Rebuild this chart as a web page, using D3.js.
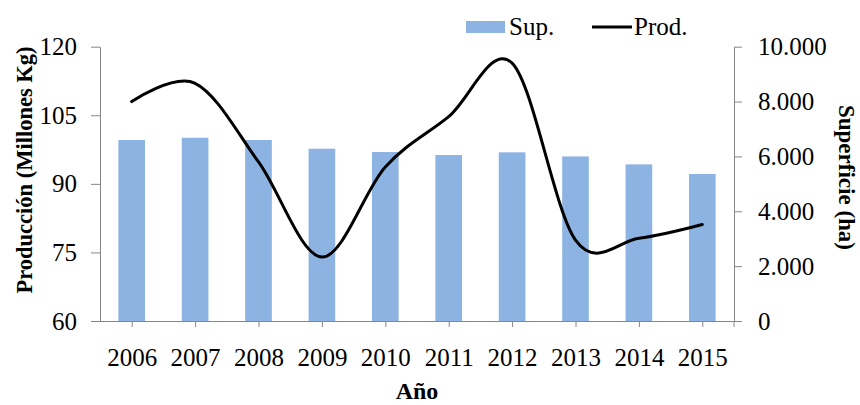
<!DOCTYPE html>
<html>
<head>
<meta charset="utf-8">
<script src="https://cdn.jsdelivr.net/npm/d3@7/dist/d3.min.js"></script>
<style>
  html, body { margin: 0; padding: 0; background: #fff; }
  svg { display: block; }
  text { font-family: "Liberation Serif", "Times New Roman", serif; fill: #000; }
</style>
</head>
<body>
<svg id="chart" width="860" height="405"></svg>
<script>
// Años de la serie
const years = ["2006", "2007", "2008", "2009", "2010", "2011", "2012", "2013", "2014", "2015"];
// Superficie cultivada (ha) – barras, eje derecho
const superficie = [6600, 6680, 6600, 6280, 6160, 6050, 6150, 6000, 5710, 5360];
// Producción (millones de kg) – línea suavizada, eje izquierdo
const produccion = [108, 112, 94.8, 74, 93.7, 104.7, 116.4, 77.7, 78.1, 81.1];
// Marcas de los ejes
const leftTicks = [60, 75, 90, 105, 120];
const rightTicks = [0, 2000, 4000, 6000, 8000, 10000];

const svg = d3.select("#chart");
const plot = { left: 100, right: 734, top: 46.7, bottom: 321 };
const axisColor = "#868686";

const x = d3.scaleBand().domain(years).range([plot.left, plot.right]).paddingInner(0.58).paddingOuter(0.29);
const xc = d => x(d) + x.bandwidth() / 2;
const yL = d3.scaleLinear().domain([60, 120]).range([plot.bottom, plot.top]);
const yR = d3.scaleLinear().domain([0, 10000]).range([plot.bottom, plot.top]);

const es = d3.formatLocale({ decimal: ",", thousands: ".", grouping: [3], currency: ["", " €"] });
const fmtR = es.format(",");

// Barras de superficie
svg.append("g").selectAll("rect")
  .data(years.map((yr, i) => ({ yr, v: superficie[i] })))
  .join("rect")
  .attr("x", d => x(d.yr))
  .attr("width", x.bandwidth())
  .attr("y", d => yR(d.v))
  .attr("height", d => yR(0) - yR(d.v))
  .attr("fill", "#8DB3E2");

// Eje izquierdo
const gL = svg.append("g").attr("transform", `translate(${plot.left},0)`)
  .call(d3.axisLeft(yL).tickValues(leftTicks).tickSize(9).tickSizeOuter(0).tickPadding(14));
// Eje derecho
const gR = svg.append("g").attr("transform", `translate(${plot.right},0)`)
  .call(d3.axisRight(yR).tickValues(rightTicks).tickFormat(fmtR).tickSize(8).tickSizeOuter(0).tickPadding(16));
// Eje inferior
const xPts = d3.scalePoint().domain(years).range([xc(years[0]), xc(years[years.length - 1])]);
const gB = svg.append("g").attr("transform", `translate(0,${plot.bottom})`)
  .call(d3.axisBottom(xPts).tickSize(6).tickSizeOuter(0).tickPadding(21));
gB.select(".domain").attr("d", `M${plot.left},0.5H${plot.right}`);
gB.append("line").attr("x1", plot.right).attr("x2", plot.right).attr("y1", 0).attr("y2", 6);

[gL, gR, gB].forEach(g => {
  g.selectAll(".domain, line").attr("stroke", axisColor).attr("stroke-width", 1);
  g.selectAll("text").attr("font-size", 25).attr("fill", "#000")
    .attr("font-family", "'Liberation Serif', 'Times New Roman', serif");
});

// Línea de producción (suavizada)
const line = d3.line()
  .x((d, i) => xc(years[i]))
  .y(d => yL(d))
  .curve(d3.curveCatmullRom.alpha(0));
svg.append("path")
  .datum(produccion)
  .attr("d", line)
  .attr("fill", "none")
  .attr("stroke", "#000")
  .attr("stroke-width", 3)
  .attr("stroke-linecap", "round");

// Títulos de ejes
svg.append("text")
  .attr("transform", "translate(32,170) rotate(-90)")
  .attr("text-anchor", "middle")
  .attr("font-weight", "bold").attr("font-size", 22.5)
  .text("Producción (Millones Kg)");
svg.append("text")
  .attr("transform", "translate(839,177.5) rotate(90)")
  .attr("text-anchor", "middle")
  .attr("font-weight", "bold").attr("font-size", 23)
  .text("Superficie (ha)");
svg.append("text")
  .attr("x", 417).attr("y", 399)
  .attr("text-anchor", "middle")
  .attr("font-weight", "bold").attr("font-size", 24)
  .text("Año");

// Leyenda
const lg = svg.append("g");
lg.append("rect").attr("x", 466).attr("y", 21).attr("width", 39).attr("height", 12).attr("fill", "#8DB3E2");
lg.append("text").attr("x", 509).attr("y", 35).attr("font-size", 25).text("Sup.");
lg.append("line").attr("x1", 592).attr("x2", 632).attr("y1", 27).attr("y2", 27)
  .attr("stroke", "#000").attr("stroke-width", 3);
lg.append("text").attr("x", 634).attr("y", 35).attr("font-size", 25).text("Prod.");
</script>
</body>
</html>
